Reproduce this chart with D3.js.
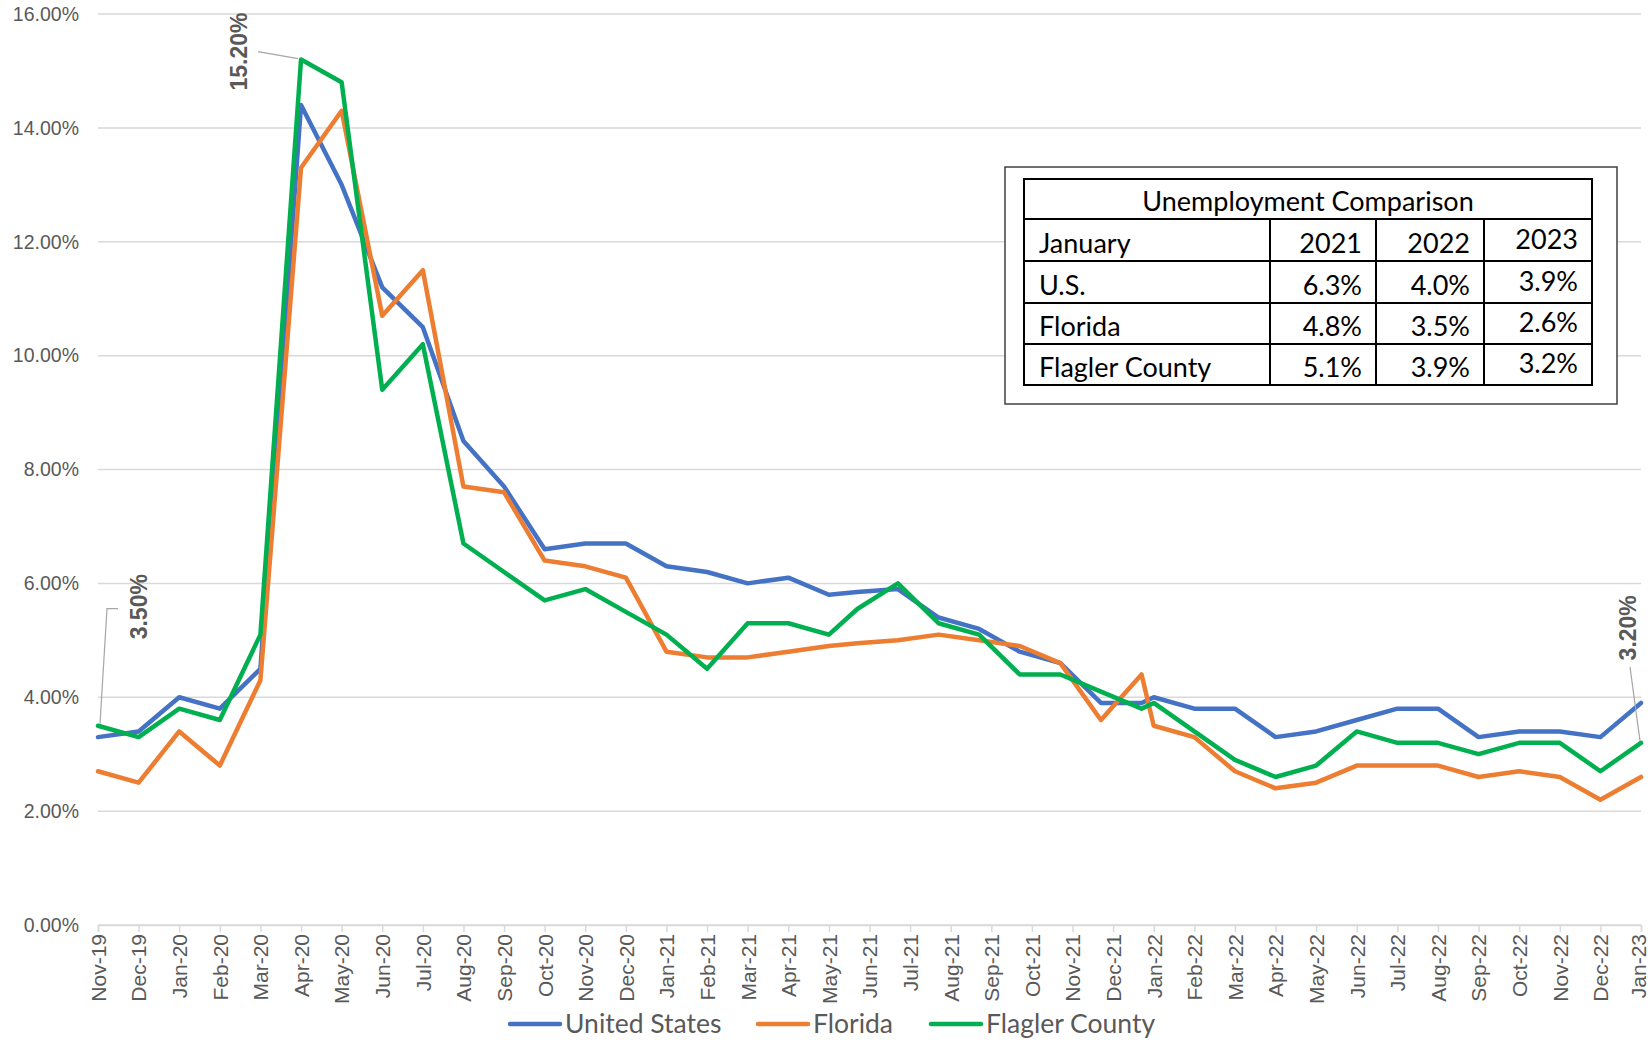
<!DOCTYPE html>
<html>
<head>
<meta charset="utf-8">
<script src="https://cdn.jsdelivr.net/npm/d3@7"></script>
<style>
  body { margin: 0; background: #ffffff; }
  #line-chart { width: 1650px; height: 1040px; }
</style>
</head>
<body>
<div id="line-chart"></div>
<script>
// Category labels on the x axis
const months = [
  "Nov-19", "Dec-19",
  "Jan-20", "Feb-20", "Mar-20", "Apr-20", "May-20", "Jun-20", "Jul-20", "Aug-20", "Sep-20", "Oct-20", "Nov-20", "Dec-20",
  "Jan-21", "Feb-21", "Mar-21", "Apr-21", "May-21", "Jun-21", "Jul-21", "Aug-21", "Sep-21", "Oct-21", "Nov-21", "Dec-21",
  "Jan-22", "Feb-22", "Mar-22", "Apr-22", "May-22", "Jun-22", "Jul-22", "Aug-22", "Sep-22", "Oct-22", "Nov-22", "Dec-22",
  "Jan-23"
];

// Where each data point sits, counted in months from Nov-19
// (the mid-2021 points sit a little early and there is one extra point before Jan-22)
const pointPos = [
  0, 1, 2, 3, 4, 5, 6, 7, 8, 9, 10, 11, 12, 13, 14, 15, 16, 17, 18,
  18.7, 19.7, 20.7, 21.7, 22.7, 23.7, 24.7, 25.7,
  26, 27, 28, 29, 30, 31, 32, 33, 34, 35, 36, 37, 38
];

// Unemployment rate, percent
const unitedStates = [
  3.3, 3.4, 4.0, 3.8, 4.5, 14.4, 13.0, 11.2, 10.5, 8.5, 7.7, 6.6, 6.7, 6.7, 6.3, 6.2, 6.0, 6.1, 5.8,
  5.85, 5.9, 5.4, 5.2, 4.8, 4.6, 3.9, 3.9,
  4.0, 3.8, 3.8, 3.3, 3.4, 3.6, 3.8, 3.8, 3.3, 3.4, 3.4, 3.3, 3.9
];
const florida = [
  2.7, 2.5, 3.4, 2.8, 4.3, 13.3, 14.3, 10.7, 11.5, 7.7, 7.6, 6.4, 6.3, 6.1, 4.8, 4.7, 4.7, 4.8, 4.9,
  4.95, 5.0, 5.1, 5.0, 4.9, 4.6, 3.6, 4.4,
  3.5, 3.3, 2.7, 2.4, 2.5, 2.8, 2.8, 2.8, 2.6, 2.7, 2.6, 2.2, 2.6
];
const flagler = [
  3.5, 3.3, 3.8, 3.6, 5.1, 15.2, 14.8, 9.4, 10.2, 6.7, 6.2, 5.7, 5.9, 5.5, 5.1, 4.5, 5.3, 5.3, 5.1,
  5.55, 6.0, 5.3, 5.1, 4.4, 4.4, 4.1, 3.8,
  3.9, 3.4, 2.9, 2.6, 2.8, 3.4, 3.2, 3.2, 3.0, 3.2, 3.2, 2.7, 3.2
];

const yTicks = [0, 2, 4, 6, 8, 10, 12, 14, 16];
const seriesNames = ["United States", "Florida", "Flagler County"];

// Flagler County points that carry a data label
const labelledPoints = [0, 5, 39];

// Inset table
const tableTitle = "Unemployment Comparison";
const tableYears = ["2021", "2022", "2023"];
const tableRegions = ["U.S.", "Florida", "Flagler County"];
const tableValues = [
  [6.3, 4.0, 3.9],
  [4.8, 3.5, 2.6],
  [5.1, 3.9, 3.2]
];

(function () {
    const width = 1650;
    const height = 1040;
    const plot = { left: 98, right: 1641, top: 14, bottom: 925 };
    const colors = ["#4472C4", "#ED7D31", "#00B050"];
    const gridColor = "#D9D9D9";
    const textColor = "#595959";
    const axisFont = "'Liberation Sans', Arial, sans-serif";
    const tableFont = "Lato, 'Open Sans', sans-serif";

    const svg = d3.select("#line-chart")
        .append("svg")
        .attr("width", width)
        .attr("height", height)
        .attr("viewBox", `0 0 ${width} ${height}`);

    const x = d3.scaleLinear().domain([0, months.length - 1]).range([plot.left, plot.right]);
    const y = d3.scaleLinear().domain([0, 16]).range([plot.bottom, plot.top]);

    // Gridlines
    svg.append("g")
        .selectAll("line")
        .data(yTicks)
        .enter().append("line")
        .attr("x1", plot.left)
        .attr("x2", plot.right)
        .attr("y1", d => y(d))
        .attr("y2", d => y(d))
        .attr("stroke", gridColor)
        .attr("stroke-width", 1.5);

    // Y axis labels
    const yAxis = svg.append("g")
        .attr("transform", `translate(${plot.left},0)`)
        .call(d3.axisLeft(y)
            .tickValues(yTicks)
            .tickSize(0)
            .tickPadding(19)
            .tickFormat(d => d3.format(".2%")(d / 100)));
    yAxis.select(".domain").remove();
    yAxis.selectAll("text")
        .attr("fill", textColor)
        .style("font-family", axisFont)
        .style("font-size", "19.5px");

    // X axis with rotated month labels
    const xAxis = svg.append("g")
        .attr("transform", `translate(0,${plot.bottom})`)
        .call(d3.axisBottom(x)
            .tickValues(d3.range(months.length))
            .tickSize(7)
            .tickFormat(i => months[i]));
    xAxis.select(".domain").attr("stroke", gridColor).attr("stroke-width", 1.5);
    xAxis.selectAll(".tick line").attr("stroke", gridColor).attr("stroke-width", 1.5);
    xAxis.selectAll("text")
        .attr("fill", textColor)
        .style("font-family", axisFont)
        .style("font-size", "21px")
        .attr("transform", "rotate(-90)")
        .attr("text-anchor", "end")
        .attr("x", -9)
        .attr("y", (d, i) => i === months.length - 1 ? -3 : 0)
        .attr("dy", "0.35em");

    // Lines
    const line = d3.line()
        .x((d, i) => x(pointPos[i]))
        .y(d => y(d));

    svg.append("g")
        .selectAll("path")
        .data([unitedStates, florida, flagler])
        .enter().append("path")
        .attr("d", line)
        .attr("fill", "none")
        .attr("stroke", (d, i) => colors[i])
        .attr("stroke-width", 4.5)
        .attr("stroke-linejoin", "round")
        .attr("stroke-linecap", "round");

    // Data labels with leader lines (offsets from the point)
    const labelSpots = [
        { dx: 41, dy: -119, leader: [[20, -117], [9, -117], [2, -2]] },
        { dx: -62, dy: -8, leader: [[-43, -8], [-3, -1]] },
        { dx: -13, dy: -115, leader: [[-11, -76], [-1, -2]] }
    ];
    labelledPoints.forEach((idx, k) => {
        const px = x(pointPos[idx]);
        const py = y(flagler[idx]);
        const spot = labelSpots[k];
        svg.append("path")
            .attr("d", d3.line()(spot.leader.map(p => [px + p[0], py + p[1]])))
            .attr("fill", "none")
            .attr("stroke", "#A6A6A6")
            .attr("stroke-width", 1.2);
        svg.append("text")
            .attr("transform", `translate(${px + spot.dx},${py + spot.dy}) rotate(-90)`)
            .attr("text-anchor", "middle")
            .attr("dy", "0.35em")
            .attr("fill", textColor)
            .style("font-family", axisFont)
            .style("font-size", "23px")
            .style("font-weight", "bold")
            .text(d3.format(".2%")(flagler[idx] / 100));
    });

    // Inset table
    const colX = [1024, 1270, 1376, 1484, 1592];
    const rowY = [179, 219, 261, 303, 344, 385];
    const table = svg.append("g");

    table.append("rect")
        .attr("x", 1005).attr("y", 167)
        .attr("width", 612).attr("height", 237)
        .attr("fill", "#ffffff")
        .attr("stroke", "#404040")
        .attr("stroke-width", 1.5);

    table.append("rect")
        .attr("x", colX[0]).attr("y", rowY[0])
        .attr("width", colX[4] - colX[0]).attr("height", rowY[5] - rowY[0])
        .attr("fill", "none")
        .attr("stroke", "#000000")
        .attr("stroke-width", 2);

    table.selectAll(".row-line")
        .data(rowY.slice(1, 5))
        .enter().append("line")
        .attr("x1", colX[0]).attr("x2", colX[4])
        .attr("y1", d => d).attr("y2", d => d)
        .attr("stroke", "#000000").attr("stroke-width", 2);

    table.selectAll(".col-line")
        .data(colX.slice(1, 4))
        .enter().append("line")
        .attr("x1", d => d).attr("x2", d => d)
        .attr("y1", rowY[1]).attr("y2", rowY[5])
        .attr("stroke", "#000000").attr("stroke-width", 2);

    const cellText = (tx, ty, str, anchor) => table.append("text")
        .attr("x", tx).attr("y", ty)
        .attr("text-anchor", anchor)
        .attr("fill", "#000000")
        .style("font-family", tableFont)
        .style("font-size", "27px")
        .text(str);

    cellText((colX[0] + colX[4]) / 2, rowY[1] - 8, tableTitle, "middle");
    cellText(colX[0] + 15, rowY[2] - 8, "January", "start");
    tableYears.forEach((yr, j) => cellText(colX[j + 2] - 14, rowY[2] - 8 - (j === 2 ? 4 : 0), yr, "end"));
    tableRegions.forEach((name, r) => {
        cellText(colX[0] + 15, rowY[r + 3] - 8, name, "start");
        tableValues[r].forEach((v, j) =>
            cellText(colX[j + 2] - 14, rowY[r + 3] - 8 - (j === 2 ? 4 : 0), d3.format(".1f")(v) + "%", "end"));
    });

    // Legend
    const legendX = [510, 758, 931];
    const legend = svg.selectAll(".legend")
        .data(seriesNames)
        .enter().append("g")
        .attr("class", "legend")
        .attr("transform", (d, i) => `translate(${legendX[i]},1024)`);

    legend.append("line")
        .attr("x1", 0).attr("x2", 50)
        .attr("stroke", (d, i) => colors[i])
        .attr("stroke-width", 4.5)
        .attr("stroke-linecap", "round");

    legend.append("text")
        .attr("x", 55)
        .attr("y", 9)
        .attr("fill", textColor)
        .style("font-family", tableFont)
        .style("font-size", "26.5px")
        .text(d => d);
})();
</script>
</body>
</html>
